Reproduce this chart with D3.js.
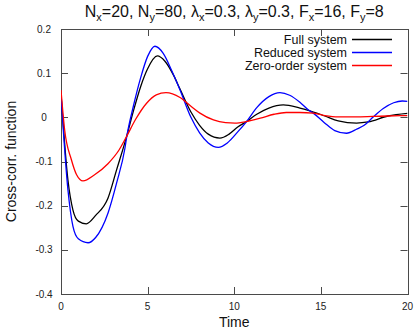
<!DOCTYPE html>
<html>
<head>
<meta charset="utf-8">
<script src="https://cdn.jsdelivr.net/npm/d3@7"></script>
<style>
  html, body { margin: 0; padding: 0; background: #fff; }
  svg { display: block; font-family: "Liberation Sans", Arial, Helvetica, sans-serif; }
</style>
</head>
<body>
<svg id="chart" width="415" height="331"></svg>
<script>
// ---- data ----
const tFull = [0, 0.4, 0.69, 1.0, 1.46, 2.0, 2.71, 3.2, 3.79, 4.17, 4.6, 5.0, 5.56, 6.0, 6.5, 6.87, 7.5, 8.0, 8.5, 9.17, 9.7, 10.2, 10.71, 11.3, 12.0, 12.83, 13.79, 14.27, 15.23, 16.0, 17.06, 17.73, 18.87, 20];
const vFull = [0.054, -0.142, -0.21, -0.235, -0.241, -0.222, -0.183, -0.12, -0.043, 0.013, 0.07, 0.11, 0.139, 0.127, 0.095, 0.064, 0.012, -0.018, -0.038, -0.047, -0.038, -0.022, -0.0095, 0.007, 0.021, 0.028, 0.021, 0.016, 0.003, -0.008, -0.013, -0.0105, 0.003, 0.009];

const tReduced = [0, 0.4, 0.69, 1.0, 1.56, 2.0, 2.71, 3.2, 3.69, 3.79, 4.17, 4.6, 5.0, 5.42, 5.9, 6.4, 6.87, 7.5, 8.0, 8.5, 9.08, 9.6, 10.2, 10.71, 11.3, 12.0, 12.64, 13.2, 13.79, 14.27, 14.56, 15.2, 15.8, 16.48, 17.1, 17.5, 18.0, 18.6, 19.2, 19.7, 20];
const vReduced = [0.051, -0.164, -0.247, -0.275, -0.284, -0.272, -0.217, -0.15, -0.07, -0.045, 0.024, 0.09, 0.138, 0.161, 0.145, 0.105, 0.062, 0.0, -0.035, -0.058, -0.068, -0.058, -0.033, -0.0095, 0.022, 0.047, 0.056, 0.05, 0.034, 0.017, 0.0095, -0.012, -0.03, -0.036, -0.026, -0.018, 0.0, 0.02, 0.033, 0.037, 0.036];

const tZero = [0, 0.21, 0.6, 0.9, 1.27, 1.94, 2.71, 3.35, 3.79, 4.3, 4.94, 5.5, 6.06, 6.87, 7.5, 8.02, 8.8, 9.5, 10.04, 10.71, 11.5, 12.3, 13.0, 13.79, 14.56, 15.23, 16.0, 17.0, 18.0, 18.87, 20];
const vZero = [0.062, -0.028, -0.096, -0.13, -0.144, -0.13, -0.105, -0.074, -0.043, -0.005, 0.032, 0.051, 0.056, 0.045, 0.025, 0.0095, -0.006, -0.012, -0.013, -0.0095, -0.002, 0.007, 0.011, 0.011, 0.0095, 0.004, 0.001, 0.001, 0.002, 0.003, 0.004];

const seriesNames = ["Full system", "Reduced system", "Zero-order system"];
const seriesColors = ["#000000", "#0000ff", "#ff0000"];

const xTicks = [0, 5, 10, 15, 20];
const xTickLabels = ["0", "5", "10", "15", "20"];
const yTicks = [0.2, 0.1, 0, -0.1, -0.2, -0.3, -0.4];
const yTickLabels = ["0.2", "0.1", "0", "-0.1", "-0.2", "-0.3", "-0.4"];

const xLabel = "Time";
const yLabel = "Cross-corr. function";

// ---- layout ----
const svg = d3.select("#chart");
const L = 61, R = 407.5, T = 29, B = 294;
const x = d3.scaleLinear().domain([0, 20]).range([L, R]);
const y = d3.scaleLinear().domain([-0.4, 0.2]).range([B, T]);
const frameColor = "#4a4a4a";
const tickLen = 7;

// clip
svg.append("defs").append("clipPath").attr("id", "clip")
  .append("rect").attr("x", L).attr("y", T).attr("width", R - L).attr("height", B - T);

// ticks (inward, mirrored)
const tg = svg.append("g").attr("stroke", frameColor).attr("stroke-width", 1);
xTicks.forEach(v => {
  const px = Math.round(x(v)) + 0.5;
  tg.append("line").attr("x1", px).attr("x2", px).attr("y1", B).attr("y2", B - tickLen);
  tg.append("line").attr("x1", px).attr("x2", px).attr("y1", T).attr("y2", T + tickLen);
});
yTicks.forEach(v => {
  const py = Math.round(y(v)) + 0.5;
  tg.append("line").attr("x1", L).attr("x2", L + tickLen).attr("y1", py).attr("y2", py);
  tg.append("line").attr("x1", R).attr("x2", R - tickLen).attr("y1", py).attr("y2", py);
});

// frame
svg.append("rect")
  .attr("x", Math.round(L) + 0.5).attr("y", Math.round(T) + 0.5)
  .attr("width", Math.round(R) - Math.round(L)).attr("height", Math.round(B) - Math.round(T))
  .attr("fill", "none").attr("stroke", frameColor).attr("stroke-width", 1);

// tick labels
const labelColor = "#222";
svg.append("g").selectAll("text").data(xTicks).join("text")
  .attr("x", d => x(d)).attr("y", 310)
  .attr("text-anchor", "middle").attr("font-size", 10).attr("fill", labelColor)
  .text((d, i) => xTickLabels[i]);
svg.append("g").selectAll("text").data(yTicks).join("text")
  .attr("x", 44).attr("y", d => y(d) + 3.5)
  .attr("text-anchor", "middle").attr("font-size", 10).attr("fill", labelColor)
  .text((d, i) => yTickLabels[i]);

// axis labels
svg.append("text").attr("x", (L + R) / 2).attr("y", 327)
  .attr("text-anchor", "middle").attr("font-size", 14).attr("fill", "#111").text(xLabel);
svg.append("text").attr("transform", `translate(16,${(T + B) / 2}) rotate(-90)`)
  .attr("text-anchor", "middle").attr("font-size", 14).attr("fill", "#111").text(yLabel);

// title with subscripts
const title = svg.append("text").attr("x", (L + R) / 2).attr("y", 17)
  .attr("text-anchor", "middle").attr("font-size", 16).attr("fill", "#111");
const parts = [
  ["N", "x", "=20, "], ["N", "y", "=80, "], ["λ", "x", "=0.3, "],
  ["λ", "y", "=0.3, "], ["F", "x", "=16, "], ["F", "y", "=8"]
];
parts.forEach(p => {
  title.append("tspan").text(p[0]);
  title.append("tspan").attr("font-size", 11).attr("dy", 4).text(p[1]);
  title.append("tspan").attr("dy", -4).text(p[2]);
});

// lines
const line = d3.line().x(d => x(d[0])).y(d => y(d[1])).curve(d3.curveMonotoneX);
const seriesData = [
  d3.zip(tFull, vFull),
  d3.zip(tReduced, vReduced),
  d3.zip(tZero, vZero)
];
const lg = svg.append("g").attr("clip-path", "url(#clip)");
seriesData.forEach((s, i) => {
  lg.append("path").datum(s).attr("d", line)
    .attr("fill", "none").attr("stroke", seriesColors[i]).attr("stroke-width", 1.3);
});

// legend
const legendRows = [39.5, 52.5, 65.5];
seriesNames.forEach((n, i) => {
  svg.append("text").attr("x", 347).attr("y", legendRows[i] + 4.5)
    .attr("text-anchor", "end").attr("font-size", 12.5).attr("fill", "#111").text(n);
  svg.append("line").attr("x1", 352).attr("x2", 392)
    .attr("y1", legendRows[i]).attr("y2", legendRows[i])
    .attr("stroke", seriesColors[i]).attr("stroke-width", 1.3);
});
</script>
</body>
</html>
